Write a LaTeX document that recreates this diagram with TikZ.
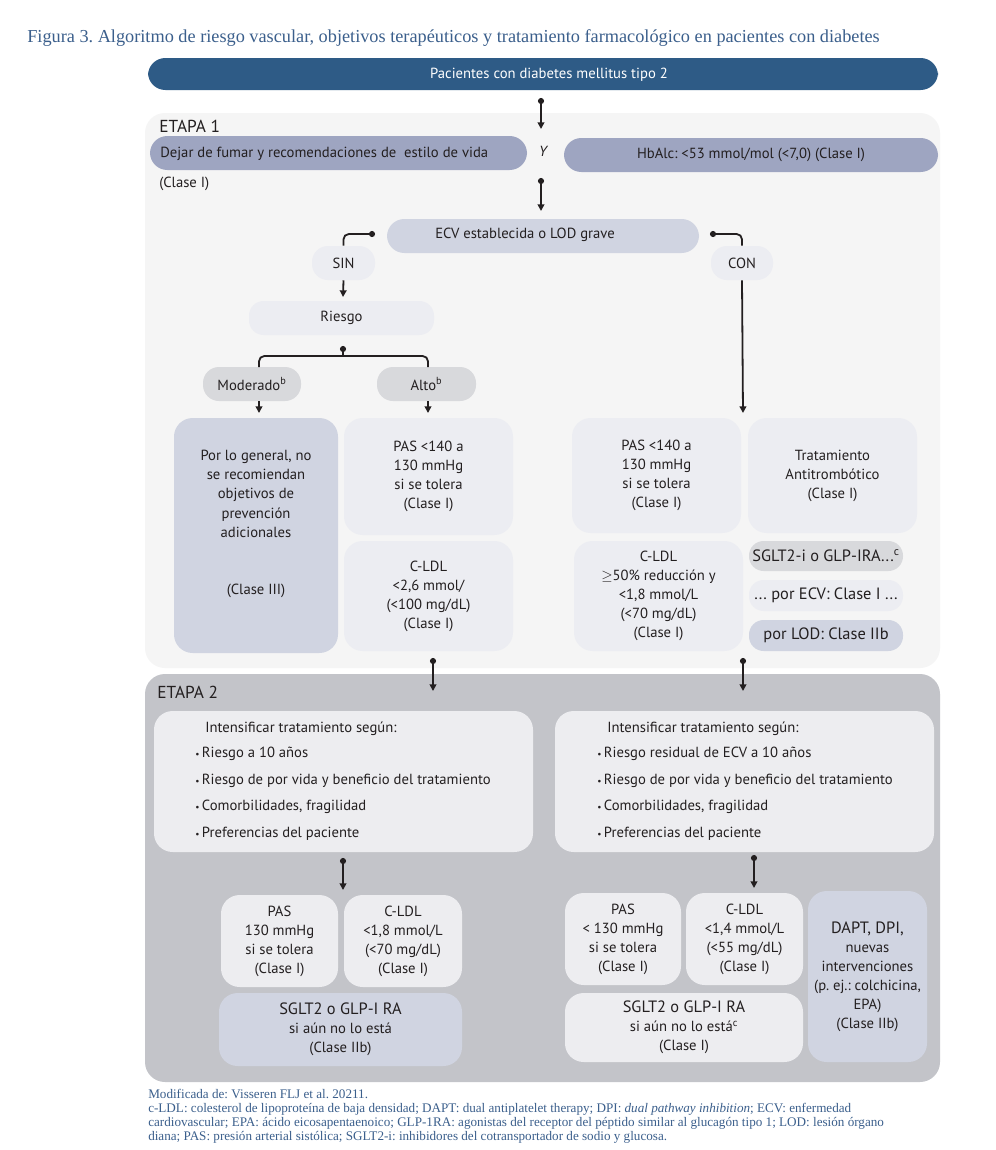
\documentclass[tikz,border=0pt]{standalone}
\usepackage{fontspec}
\setmainfont{PT Sans}
\newfontfamily\seriff{Liberation Serif}
\usetikzlibrary{arrows.meta,calc}
\frenchspacing
\definecolor{dblue}{HTML}{2E5B86}
\definecolor{tblue}{HTML}{3B5F8C}
\definecolor{bgone}{HTML}{F5F5F5}
\definecolor{pillblue}{HTML}{9EA5C1}
\definecolor{lblue}{HTML}{D0D4E1}
\definecolor{vlight}{HTML}{ECEDF2}
\definecolor{gpill}{HTML}{D8D9DC}
\definecolor{bgtwo}{HTML}{C3C4C9}
\definecolor{sbox}{HTML}{EDEDF0}
\definecolor{ink}{HTML}{231F20}
\newcommand\bfs{\fontsize{12.3}{14.5}\selectfont}
\newcommand\bul{{\fontsize{7}{7}\selectfont\textbullet}\,}
\begin{document}
\begin{tikzpicture}[x=0.75pt,y=-0.75pt,
  every node/.style={font=\fontsize{11}{14.3}\selectfont, text=ink},
  bb/.style n args={4}{at={({(#1+#3)/2},{(#2+#4)/2})}, minimum width={(#3-#1)*0.75pt}, minimum height={(#4-#2)*0.75pt}},
  area/.style={inner sep=0pt, rounded corners=15pt},
  rbox/.style={inner sep=0pt, rounded corners=14pt, align=center},
  pill/.style={inner sep=0pt, rounded corners=12pt, align=center},
  spill/.style={inner sep=0pt, rounded corners=11pt, align=center, font=\bfs},
  txt/.style={inner sep=0pt, align=center},
  ltxt/.style={inner sep=0pt, anchor=west},
  foot/.style={inner sep=0pt, anchor=west, text=tblue, font=\seriff\fontsize{9.85}{11}\selectfont},
  conn/.style={draw=ink, line width=1.35pt, {Circle[length=4.5pt]}-{Triangle[length=5pt,width=5pt]}},
  dotline/.style={draw=ink, line width=1.35pt, {Circle[length=4.5pt]}-},
  arr/.style={draw=ink, line width=1.35pt, -{Triangle[length=5pt,width=5pt]}},
  plain/.style={draw=ink, line width=1.35pt},
]
\path[use as bounding box, fill=white] (0,0) rectangle (996,1150);

% title
\node[ltxt, text=tblue, font=\seriff\fontsize{13.7}{15}\selectfont] (title) at (27,38)
  {Figura 3. Algoritmo de riesgo vascular, objetivos terapéuticos y tratamiento farmacológico en pacientes con diabetes};

% top bar
\node[pill, fill=dblue, rounded corners=13pt, bb={148}{58}{938}{90}] (top) {};
\node[txt, text=white] (toptxt) at (549,75) {Pacientes con diabetes mellitus tipo 2};

% stage 1 panel
\node[area, fill=bgone, bb={145}{113}{940}{668}] (s1) {};
\node[ltxt, font=\fontsize{13}{15}\selectfont] (e1) at (159,126) {ETAPA 1};

\coordinate (a1s) at (541,98); \coordinate (a1e) at (541,129);
\draw[conn] (a1s) -- (a1e);

\node[pill, fill=pillblue, rounded corners=13pt, bb={150}{136}{527}{170}] (dejar) {};
\node[ltxt] (dejartxt) at (160,154) {Dejar de fumar y recomendaciones de\ \ estilo de vida};
\node[ltxt] (clasei) at (159,184) {(Clase I)};
\node[txt] (y) at (543,151) {\itshape Y};
\node[pill, fill=pillblue, rounded corners=13pt, bb={564}{138}{938}{172}] (hba) {HbAlc: <53 mmol/mol (<7,0) (Clase I)};

\coordinate (a2s) at (541,178); \coordinate (a2e) at (541,211);
\draw[conn] (a2s) -- (a2e);

\node[pill, fill=lblue, rounded corners=13pt, bb={387}{219}{699}{253}] (ecv) {};
\node[txt] (ecvtxt) at (525,235) {ECV establecida o LOD grave};

\node[pill, fill=vlight, bb={312}{246}{375}{280}] (sin) {SIN};
\node[pill, fill=vlight, bb={711}{246}{773}{280}] (con) {CON};
\coordinate (dsin) at (375,234);
\coordinate (dcon) at (710,234);
\draw[dotline, rounded corners=4pt] (dsin) -| (sin.north);
\draw[dotline, rounded corners=4pt] (dcon) -| (con.north);

\node[rbox, fill=vlight, rounded corners=11pt, bb={249}{301}{434}{335}] (riesgo) {Riesgo};
\coordinate (rs) at (343,297);
\draw[arr] (sin.south) -- (rs);

\node[pill, fill=gpill, bb={203}{367}{301}{401}] (mod) {Moderado\textsuperscript{b}};
\node[pill, fill=gpill, bb={377}{367}{476}{401}] (alto) {Alto\textsuperscript{b}};
\coordinate (dr) at (343,346);
\coordinate (br) at (343,356);
\draw[dotline] (dr) -- (br);
\draw[plain, rounded corners=4pt] (259,367) |- (br) -| (428,367);

\node[rbox, fill=lblue, bb={174}{418}{338}{653}] (pg) {};
\node[txt] (pgtxt) at (256,524) {Por lo general, no\\se recomiendan\\objetivos de\\prevención\\adicionales\\[2\baselineskip](Clase III)};
\node[rbox, fill=vlight, bb={344}{418}{513}{535}] (pasL) {PAS <140 a\\130 mmHg\\si se tolera\\(Clase I)};
\node[rbox, fill=vlight, bb={344}{541}{513}{651}] (cldlL) {C-LDL\\<2,6 mmol/\\(<100 mg/dL)\\(Clase I)};
\coordinate (amod) at (259,413); \coordinate (aalto) at (428,413);
\draw[arr] (mod.south -| amod) -- (amod);
\draw[arr] (alto.south -| aalto) -- (aalto);

\node[rbox, fill=vlight, bb={572}{418}{741}{533}] (pasR) {PAS <140 a\\130 mmHg\\si se tolera\\(Clase I)};
\node[rbox, fill=vlight, bb={748}{418}{917}{533}] (anti) {Tratamiento\\Antitrombótico\\(Clase I)};
\node[rbox, fill=vlight, bb={574}{541}{743}{651}] (cldlR) {C-LDL\\$\geq$50\% reducción y\\<1,8 mmol/L\\(<70 mg/dL)\\(Clase I)};
\coordinate (acon) at (743,413);
\draw[arr] (con.south) -- (acon);

\node[spill, fill=gpill, bb={749}{541}{903}{571}] (sglt) {SGLT2-i o GLP-IRA...\textsuperscript{c}};
\node[spill, fill=vlight, bb={749}{580}{903}{611}] (ecvc) {... por ECV: Clase I ...};
\node[spill, fill=lblue, bb={749}{620}{903}{651}] (lod) {por LOD: Clase IIb};

% stage 2 panel
\node[area, fill=bgtwo, bb={145}{674}{940}{1082}] (s2) {};
\node[ltxt, font=\fontsize{13}{15}\selectfont] (e2) at (157,692) {ETAPA 2};

\coordinate (a3s) at (433,658); \coordinate (a3e) at (433,691);
\coordinate (a4s) at (743,658); \coordinate (a4e) at (743,691);
\draw[conn] (a3s) -- (a3e);
\draw[conn] (a4s) -- (a4e);

\node[rbox, fill=sbox, bb={154}{711}{533}{852}] (intL) {};
\node[rbox, fill=sbox, bb={555}{711}{934}{852}] (intR) {};
\node[ltxt] (hL) at (205,729) {Intensificar tratamiento según:};
\node[ltxt] (hR) at (607,729) {Intensificar tratamiento según:};
\node[ltxt] (bL1) at (195,754) {\bul Riesgo a 10 años};
\node[ltxt] (bL2) at (195,781) {\bul Riesgo de por vida y beneficio del tratamiento};
\node[ltxt] (bL3) at (195,807) {\bul Comorbilidades, fragilidad};
\node[ltxt] (bL4) at (195,834) {\bul Preferencias del paciente};
\node[ltxt] (bR1) at (597,754) {\bul Riesgo residual de ECV a 10 años};
\node[ltxt] (bR2) at (597,781) {\bul Riesgo de por vida y beneficio del tratamiento};
\node[ltxt] (bR3) at (597,807) {\bul Comorbilidades, fragilidad};
\node[ltxt] (bR4) at (597,834) {\bul Preferencias del paciente};

\coordinate (a5s) at (343,858); \coordinate (a5e) at (343,890);
\coordinate (a6s) at (754,855); \coordinate (a6e) at (754,888);
\draw[conn] (a5s) -- (a5e);
\draw[conn] (a6s) -- (a6e);

\node[rbox, fill=sbox, bb={221}{895}{338}{987}] (pas2L) {PAS\\130 mmHg\\si se tolera\\(Clase I)};
\node[rbox, fill=sbox, bb={344}{895}{462}{987}] (cldl2L) {C-LDL\\<1,8 mmol/L\\(<70 mg/dL)\\(Clase I)};
\node[rbox, fill=lblue, bb={219}{993}{462}{1066}] (sglt2L) {{\bfs SGLT2 o GLP-I RA}\\si aún no lo está\\(Clase IIb)};
\node[rbox, fill=sbox, bb={565}{893}{681}{985}] (pas2R) {PAS\\< 130 mmHg\\si se tolera\\(Clase I)};
\node[rbox, fill=sbox, bb={686}{893}{803}{985}] (cldl2R) {C-LDL\\<1,4 mmol/L\\(<55 mg/dL)\\(Clase I)};
\node[rbox, fill=sbox, bb={565}{993}{803}{1062}] (sglt2R) {{\bfs SGLT2 o GLP-I RA}\\si aún no lo está\textsuperscript{c}\\(Clase I)};
\node[rbox, fill=lblue, bb={808}{891}{927}{1062}] (dapt) {{\bfs DAPT, DPI,}\\nuevas\\intervenciones\\(p. ej.: colchicina,\\EPA)\\(Clase IIb)};

% footer
\node[foot] (f1) at (148,1094) {Modificada de: Visseren FLJ et al. 20211.};
\node[foot] (f2) at (148,1109) {c-LDL: colesterol de lipoproteína de baja densidad; DAPT: dual antiplatelet therapy; DPI: \textit{dual pathway inhibition}; ECV: enfermedad};
\node[foot] (f3) at (148,1123) {cardiovascular; EPA: ácido eicosapentaenoico; GLP-1RA: agonistas del receptor del péptido similar al glucagón tipo 1; LOD: lesión órgano};
\node[foot] (f4) at (148,1137) {diana; PAS: presión arterial sistólica; SGLT2-i: inhibidores del cotransportador de sodio y glucosa.};
\end{tikzpicture}
\end{document}
